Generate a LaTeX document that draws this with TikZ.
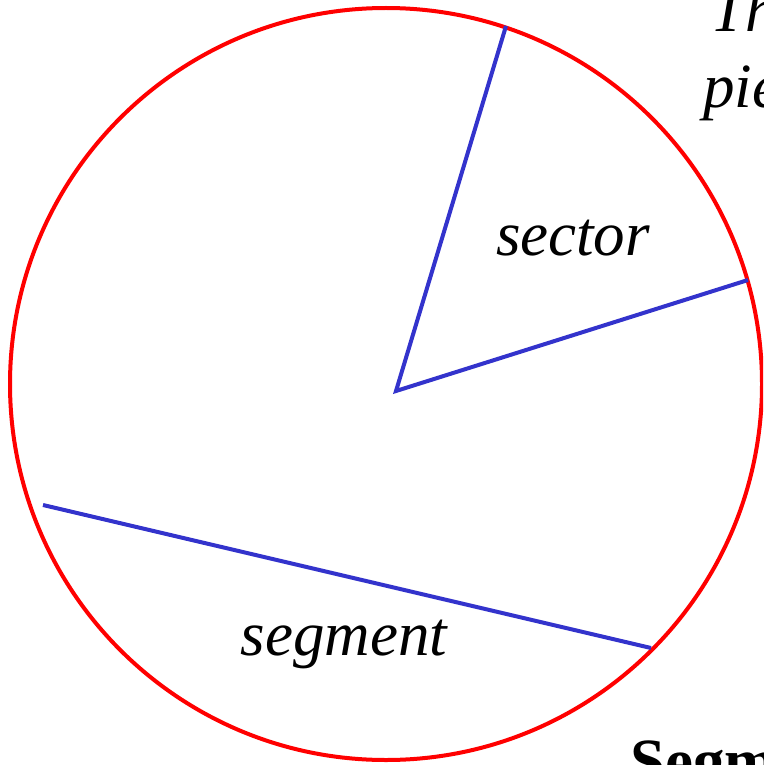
\documentclass[tikz,border=0pt]{standalone}
\usepackage{fontspec}
\setmainfont{Liberation Serif}
\definecolor{circred}{RGB}{255,0,0}
\definecolor{lineblue}{RGB}{51,51,204}
\begin{document}
\begin{tikzpicture}[x=1pt,y=-1pt,
  circ/.style={draw=circred,line width=4pt},
  ray/.style={draw=lineblue,line width=4pt,line join=miter},
  lbl/.style={font=\fontsize{63}{76}\selectfont\itshape,inner sep=0pt,anchor=base},
  lblwest/.style={font=\fontsize{63}{76}\selectfont\itshape,inner sep=0pt,anchor=base west},
  boldlbl/.style={font=\fontsize{63}{76}\selectfont\bfseries,inner sep=0pt,anchor=base west}]
\useasboundingbox (0,0) rectangle (763,765);
\clip (0,0) rectangle (763,765);
\coordinate (O) at (386,384);
\draw[circ] (O) circle (376);
\coordinate (C) at (396,391);
\coordinate (A) at (506,26);
\coordinate (B) at (748,280);
\coordinate (P) at (43,505);
\coordinate (Q) at (651,648);
\draw[ray] (A) -- (C) -- (B);
\draw[ray] (P) -- (Q);
\node[lbl] (sec) at (573,255) {sector};
\node[lbl] (seg) at (344,655) {segment};
\node[lblwest] (t1) at (710,32) {The};
\node[lblwest] (t2) at (703,108) {pie};
\node[boldlbl] (t3) at (630,782) {Segment};
\end{tikzpicture}
\end{document}
